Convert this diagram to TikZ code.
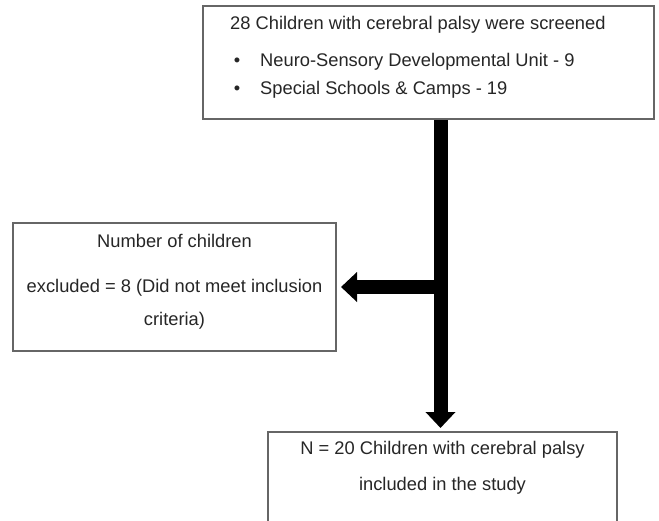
\documentclass[tikz,border=0pt]{standalone}
\usepackage{fontspec}
\setmainfont{Liberation Sans}
\usetikzlibrary{arrows.meta}
\begin{document}
\begin{tikzpicture}[x=1pt,y=-1pt,
  boxst/.style={draw=black!60,line width=1.5pt,fill=white,inner sep=0pt},
  txt/.style={font=\fontsize{18.3}{22}\selectfont,inner sep=0pt,text=black!85},
  thickline/.style={line width=14pt},
  bigarrow/.style={line width=14pt,-{Triangle[width=29pt,length=16pt]}}]
\useasboundingbox (0,0) rectangle (659,520);
\fill[white] (0,0) rectangle (659,520);
% boxes
\node[boxst,minimum width=451pt,minimum height=113pt] (top) at (428.5,62.5) {};
\node[boxst,minimum width=323pt,minimum height=128pt] (exc) at (174.5,287) {};
\node[boxst,minimum width=349pt,minimum height=140pt] (inc) at (442.5,502) {};
% texts
\node[txt,anchor=west] (t1) at (230,25) {28 Children with cerebral palsy were screened};
\node[txt] (d1) at (237,62) {\textbullet};
\node[txt,anchor=west] (b1) at (260,62) {Neuro-Sensory Developmental Unit - 9};
\node[txt] (d2) at (237,90) {\textbullet};
\node[txt,anchor=west] (b2) at (260,90) {Special Schools \& Camps - 19};
\node[txt] (e1) at (174.5,241) {Number of children};
\node[txt] (e2) at (174.5,288) {excluded = 8 (Did not meet inclusion};
\node[txt] (e3) at (174.5,321) {criteria)};
\node[txt] (i1) at (442.5,450) {N = 20 Children with cerebral palsy};
\node[txt] (i2) at (442.5,486) {included in the study};
% connectors
\coordinate (j) at (440.5,287);
\coordinate (jb) at (440.5,428);
\coordinate (je) at (341,287);
\draw[thickline] (top.south -| j) -- (j);
\draw[bigarrow] (j) -- (jb);
\draw[bigarrow] (447.5,287) -- (je);
\end{tikzpicture}
\end{document}
